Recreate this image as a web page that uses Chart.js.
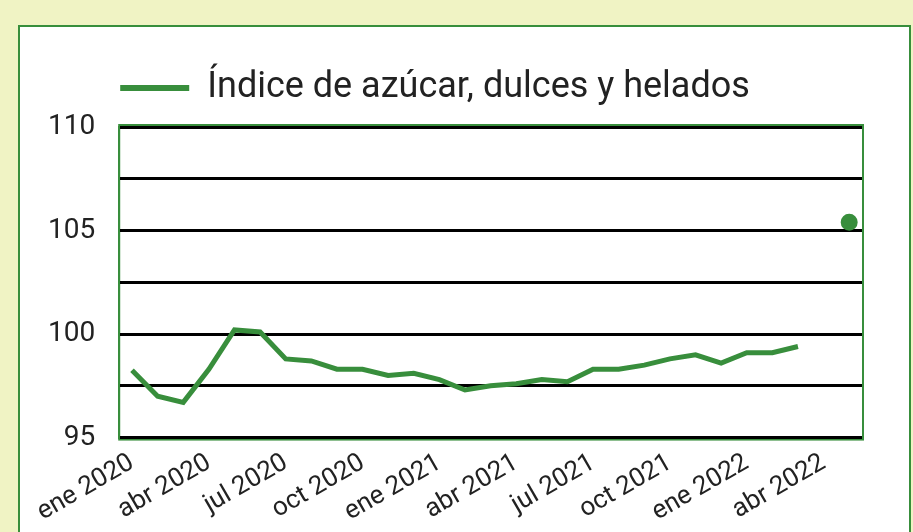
<!DOCTYPE html>
<html lang="es">
<head>
<meta charset="utf-8">
<script src="https://cdn.jsdelivr.net/npm/chart.js@4.4.1/dist/chart.umd.min.js"></script>
<style>
	html, body { margin: 0; padding: 0; }
	body { width: 913px; height: 532px; background: #f0f3c4; position: relative; overflow: hidden; font-family: Roboto, sans-serif; }
	#panel { position: absolute; left: 18px; top: 25px; width: 889px; height: 540px; background: #fff; border: 2px solid #388e3c; }
	#wrap { position: absolute; left: 0; top: 0; width: 913px; height: 532px; }
</style>
</head>
<body>
<div id="panel"></div>
<div id="wrap"><canvas id="indexchart"></canvas></div>
<script>
// Monthly series, ene 2020 - may 2022 (abr 2022 has no value)
const months = [
	'ene 2020', 'feb 2020', 'mar 2020', 'abr 2020', 'may 2020', 'jun 2020',
	'jul 2020', 'ago 2020', 'sep 2020', 'oct 2020', 'nov 2020', 'dic 2020',
	'ene 2021', 'feb 2021', 'mar 2021', 'abr 2021', 'may 2021', 'jun 2021',
	'jul 2021', 'ago 2021', 'sep 2021', 'oct 2021', 'nov 2021', 'dic 2021',
	'ene 2022', 'feb 2022', 'mar 2022', 'abr 2022', 'may 2022'
];
const sugarIndex = [
	98.25, 97.0, 96.7, 98.3, 100.2, 100.1,
	98.8, 98.7, 98.3, 98.3, 98.0, 98.1,
	97.8, 97.3, 97.5, 97.6, 97.8, 97.7,
	98.3, 98.3, 98.5, 98.8, 99.0, 98.6,
	99.1, 99.1, 99.4, null, 105.4
];
const seriesName = 'Índice de azúcar, dulces y helados';
const yTicksShown = [95, 100, 105, 110];

document.addEventListener('DOMContentLoaded', function(event) {
	const green = '#388e3c';
	const fontFamily = 'Roboto';

	// green frame round the plot area, under the grid lines
	const plotFrame = {
		id: 'plotFrame',
		beforeDraw: function(chart) {
			const a = chart.chartArea;
			const ctx = chart.ctx;
			ctx.save();
			ctx.strokeStyle = green;
			ctx.lineWidth = 2;
			ctx.strokeRect(a.left, a.top - 2, a.right - a.left + 1, a.bottom - a.top + 4);
			ctx.restore();
		}
	};

	// a bit more room between the legend and the plot
	const legendGap = {
		id: 'legendGap',
		beforeInit: function(chart) {
			const originalFit = chart.legend.fit;
			chart.legend.fit = function fit() {
				originalFit.bind(chart.legend)();
				this.height += 11;
			};
		}
	};

	new Chart(
		document.getElementById('indexchart'),
		{
			type: 'line',
			data: {
				labels: months,
				datasets: [{
					label: seriesName,
					data: sugarIndex,
					borderColor: green,
					backgroundColor: green,
					borderWidth: 5,
					tension: 0,
					pointRadius: function(c) {
						const d = c.dataset.data;
						const i = c.dataIndex;
						const alone = (d[i - 1] == null) && (d[i + 1] == null);
						return alone ? 6 : 0;
					},
					pointHoverRadius: 0
				}]
			},
			options: {
				responsive: true,
				maintainAspectRatio: false,
				animation: false,
				layout: {
					padding: { left: 24, right: 51, top: 45, bottom: 2 }
				},
				plugins: {
					tooltip: { enabled: false },
					legend: {
						position: 'top',
						align: 'start',
						fullSize: false,
						// blank title only keeps the accent on the label inside the legend box
						title: {
							display: true,
							text: ' ',
							padding: 0,
							font: { family: fontFamily, size: 20 }
						},
						labels: {
							color: '#222',
							boxWidth: 69,
							boxHeight: 6,
							padding: 1,
							font: { family: fontFamily, size: 36 },
							generateLabels: function(chart) {
								const items = Chart.defaults.plugins.legend.labels.generateLabels(chart);
								items.forEach(function(it) {
									it.lineWidth = 0;
									it.fillStyle = green;
								});
								return items;
							}
						}
					}
				},
				scales: {
					x: {
						offset: true,
						grid: { display: false },
						border: { display: false },
						ticks: {
							autoSkip: false,
							maxRotation: 30,
							minRotation: 30,
							padding: 2,
							color: '#222',
							font: { family: fontFamily, size: 26 },
							callback: function(value, index) {
								return index % 3 === 0 ? months[index] : '';
							}
						}
					},
					y: {
						min: 95,
						max: 110,
						grid: {
							color: '#000',
							lineWidth: 3,
							drawTicks: false
						},
						border: { color: green, width: 2 },
						ticks: {
							stepSize: 2.5,
							padding: 24,
							color: '#222',
							font: { family: fontFamily, size: 28 },
							callback: function(value) {
								return yTicksShown.includes(value) ? String(value) : '';
							}
						}
					}
				}
			},
			plugins: [plotFrame, legendGap]
		}
	);
});
</script>
</body>
</html>
